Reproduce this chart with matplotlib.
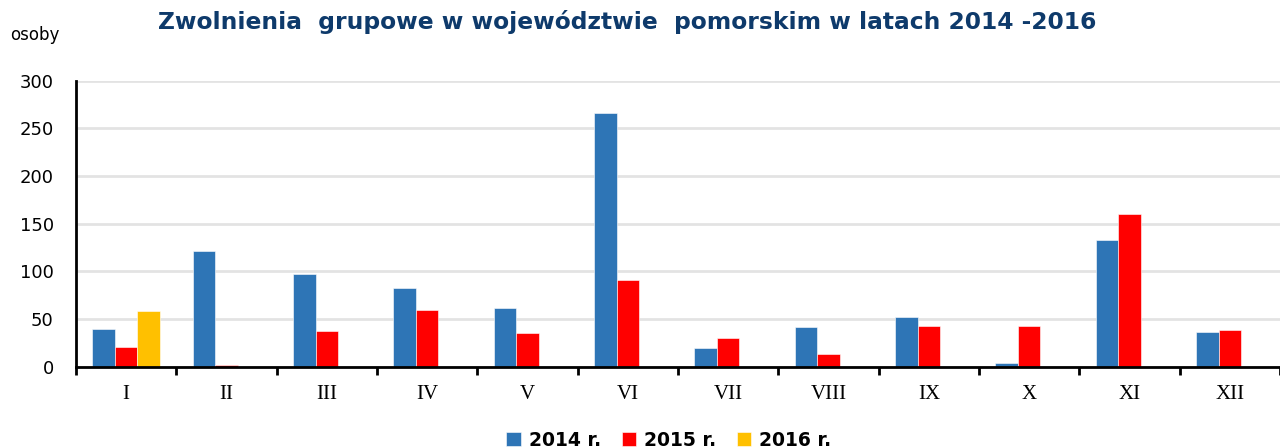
import matplotlib
matplotlib.use("Agg")
import matplotlib.pyplot as plt
import numpy as np

months = ["I", "II", "III", "IV", "V", "VI", "VII", "VIII", "IX", "X", "XI", "XII"]
series_names = ["2014 r.", "2015 r.", "2016 r."]
v2014 = [39, 121, 97, 82, 61, 266, 19, 41, 52, 4, 133, 36]
v2015 = [20, 2, 37, 59, 35, 91, 30, 13, 43, 43, 160, 38]
v2016 = [58, 0, 0, 0, 0, 0, 0, 0, 0, 0, 0, 0]
colors = ["#2E75B6", "#FF0000", "#FFC000"]
title = "Zwolnienia  grupowe w województwie  pomorskim w latach 2014 -2016"
yticks = [0, 50, 100, 150, 200, 250, 300]

fig = plt.figure(figsize=(12.8, 4.47), dpi=100)
ax = fig.add_axes([76/1280, 1-366.5/447, 1-76/1280, (366.5-80.7)/447])

x = np.arange(len(months))
w = 0.225
series = [v2014, v2015, v2016]
for i, (vals, c, name) in enumerate(zip(series, colors, series_names)):
    vals = np.array(vals, dtype=float)
    mask = vals > 0 if i == 2 else np.ones_like(vals, dtype=bool)
    ax.bar(x[mask] + (i - 1) * w, vals[mask], width=w, color=c, label=name,
           edgecolor="white", linewidth=0.4, zorder=3)

ax.set_xlim(-0.5, 11.47)
ax.set_ylim(0, 300)
ax.set_yticks(yticks)
ax.set_yticklabels([str(t) for t in yticks], fontsize=13, family="DejaVu Sans")
ax.tick_params(axis="y", length=0, pad=16)
ax.set_xticks(x)
ax.set_xticklabels(months, fontsize=15, family="Liberation Serif")
ax.set_xticks(np.arange(-0.5, 12, 1), minor=True)
ax.tick_params(axis="x", which="major", length=0, pad=13)
ax.tick_params(axis="x", which="minor", length=6, width=2, direction="out", color="black")
ax.grid(axis="y", color="#E3E3E3", linewidth=2, zorder=0)
ax.set_axisbelow(True)
for s in ["top", "right"]:
    ax.spines[s].set_visible(False)
ax.spines["left"].set_linewidth(2)
ax.spines["bottom"].set_linewidth(2)
ax.spines["left"].set_zorder(5)
ax.spines["bottom"].set_zorder(5)

fig.text(627/1280, 1-22/447, title, ha="center", va="center", fontsize=16.8,
         fontweight="bold", color="#0E3A6B", family="DejaVu Sans")
fig.text(10/1280, 1-35/447, "osoby", ha="left", va="center", fontsize=12, family="DejaVu Sans")

leg = fig.legend(loc="center", bbox_to_anchor=(669/1280, 1-440/447), ncol=3, frameon=False,
                 prop={"size": 13.5, "weight": "bold", "family": "DejaVu Sans"},
                 handlelength=0.75, handleheight=0.75, handletextpad=0.45, columnspacing=1.1)

fig.savefig("out.png", dpi=100)
